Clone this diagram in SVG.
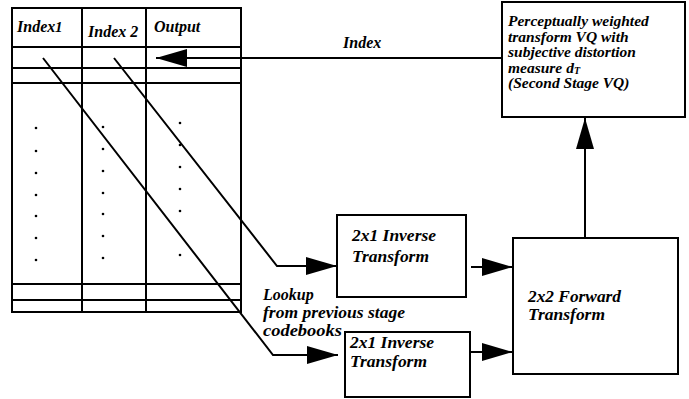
<svg xmlns="http://www.w3.org/2000/svg" width="689" height="399" viewBox="0 0 689 399">
<style>
.ln{stroke:#000;stroke-width:2;fill:none}
.bx{stroke:#000;stroke-width:2;fill:#fff}
.t{font-family:"Liberation Serif",serif;font-style:italic;font-weight:bold;font-size:16px;fill:#000}
.v{font-size:15.5px}
.dot{fill:#000}
</style>
<defs>
<marker id="ah" markerWidth="32" markerHeight="18" refX="31" refY="9" orient="auto" markerUnits="userSpaceOnUse">
<path d="M0,0 L31,9 L0,18 Z" fill="#000"/>
</marker>
</defs>
<g id="table">
<rect x="12" y="8" width="229" height="304" class="ln"/>
<line x1="82" y1="8" x2="82" y2="312" class="ln"/>
<line x1="146" y1="8" x2="146" y2="312" class="ln"/>
<line x1="12" y1="47" x2="241" y2="47" class="ln"/>
<line x1="12" y1="68" x2="241" y2="68" class="ln"/>
<line x1="12" y1="83" x2="241" y2="83" class="ln"/>
<line x1="12" y1="284" x2="241" y2="284" class="ln"/>
<line x1="12" y1="300" x2="241" y2="300" class="ln"/>
<text class="t" x="17" y="32" font-size="11.5">Index<tspan x="55" font-size="15">1</tspan></text>
<text class="t" x="88" y="37">Index 2</text>
<text class="t" x="154" y="32" font-size="15">Output</text>
<g class="dot">
<circle cx="36" cy="128" r="1.3"/><circle cx="36" cy="151" r="1.3"/><circle cx="36" cy="173" r="1.3"/><circle cx="36" cy="195" r="1.3"/><circle cx="36" cy="216" r="1.3"/><circle cx="36" cy="238" r="1.3"/><circle cx="36" cy="260" r="1.3"/>
<circle cx="103" cy="127" r="1.3"/><circle cx="103" cy="149" r="1.3"/><circle cx="103" cy="171" r="1.3"/><circle cx="103" cy="193" r="1.3"/><circle cx="103" cy="214" r="1.3"/><circle cx="103" cy="236" r="1.3"/><circle cx="103" cy="258" r="1.3"/>
<circle cx="180" cy="123" r="1.3"/><circle cx="180" cy="145" r="1.3"/><circle cx="180" cy="167" r="1.3"/><circle cx="180" cy="189" r="1.3"/><circle cx="180" cy="211" r="1.3"/><circle cx="180" cy="255" r="1.3"/>
</g>
</g>
<g id="vq">
<rect x="502" y="2" width="183" height="115" class="bx"/>
<text class="t v" x="508" y="26">Perceptually weighted</text>
<text class="t v" x="508" y="41.5">transform VQ with</text>
<text class="t v" x="508" y="57">subjective distortion</text>
<text class="t v" x="508" y="72.5">measure d<tspan font-size="10" dy="1">T</tspan></text>
<text class="t v" x="508" y="88">(Second Stage VQ)</text>
</g>
<g id="inv1">
<rect x="337" y="215" width="129" height="82" class="bx"/>
<text class="t" x="352" y="241" textLength="84" lengthAdjust="spacingAndGlyphs">2x1 Inverse</text>
<text class="t" x="352" y="262" textLength="77" lengthAdjust="spacingAndGlyphs">Transform</text>
</g>
<g id="inv2">
<rect x="345" y="332" width="125" height="65" class="bx"/>
<text class="t" x="350" y="348" textLength="84" lengthAdjust="spacingAndGlyphs">2x1 Inverse</text>
<text class="t" x="350" y="367" textLength="77" lengthAdjust="spacingAndGlyphs">Transform</text>
</g>
<g id="fwd">
<rect x="513" y="238" width="165" height="136" class="bx"/>
<text class="t" x="528" y="302" textLength="93" lengthAdjust="spacingAndGlyphs">2x2 Forward</text>
<text class="t" x="528" y="320" textLength="77" lengthAdjust="spacingAndGlyphs">Transform</text>
</g>
<g id="lookup">
<text class="t" x="263" y="300">Lookup</text>
<text class="t" x="263" y="318" textLength="142" lengthAdjust="spacingAndGlyphs">from previous stage</text>
<text class="t" x="263" y="336" textLength="79" lengthAdjust="spacingAndGlyphs">codebooks</text>
</g>
<g id="connectors">
<line x1="502" y1="58" x2="156" y2="58" class="ln" marker-end="url(#ah)"/>
<text class="t" x="343" y="48">Index</text>
<polyline points="114,58 277,266 337,266" class="ln" marker-end="url(#ah)"/>
<polyline points="43,58 273,355 338,355" class="ln" marker-end="url(#ah)"/>
<line x1="471" y1="267" x2="513" y2="267" class="ln" marker-end="url(#ah)"/>
<line x1="471" y1="352" x2="513" y2="352" class="ln" marker-end="url(#ah)"/>
<line x1="585" y1="238" x2="585" y2="118" class="ln" marker-end="url(#ah)"/>
</g>
</svg>
